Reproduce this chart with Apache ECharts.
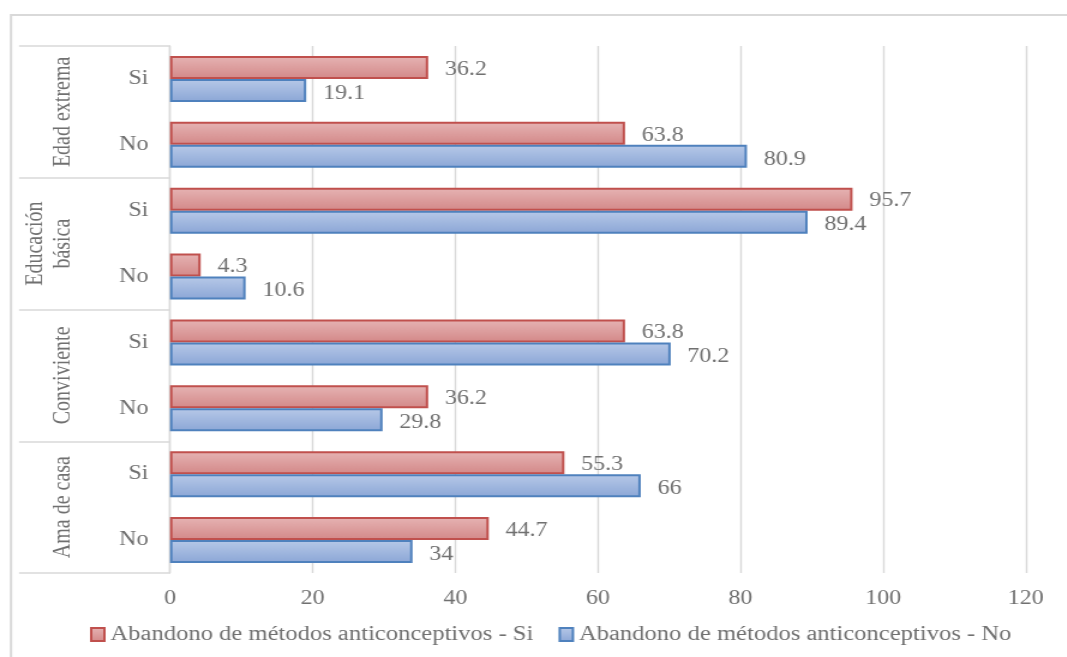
<!DOCTYPE html>
<html>
<head>
<meta charset="utf-8">
<script src="https://cdn.jsdelivr.net/npm/echarts@6/dist/echarts.min.js"></script>
<style>
html,body{margin:0;padding:0;background:#fff;overflow:hidden;}
#wrap{width:1067px;height:657px;overflow:hidden;position:relative;}
#chart{position:absolute;left:0;top:0;height:657px;transform-origin:0 0;}
</style>
</head>
<body>
<div id="wrap"><div id="chart"></div></div>
<script>
const groups = ['Edad extrema', 'Educación\nbásica', 'Conviviente', 'Ama de casa'];
const subCategories = ['Si', 'No', 'Si', 'No', 'Si', 'No', 'Si', 'No'];
const seriesNames = ['Abandono de métodos anticonceptivos - Si', 'Abandono de métodos anticonceptivos - No'];
const siValues = [36.2, 63.8, 95.7, 4.3, 63.8, 36.2, 55.3, 44.7];
const noValues = [19.1, 80.9, 89.4, 10.6, 70.2, 29.8, 66, 34];
const xTicks = { min: 0, max: 120, interval: 20 };

// The reference is horizontally stretched; reproduce by a horizontal CSS scale.
const S = 1.2;
const el = document.getElementById('chart');
el.style.width = (1067 / S) + 'px';
el.style.transform = 'scaleX(' + S + ')';

const FONT = "'Liberation Serif', 'Times New Roman', serif";
const TXT = '#707070';
const GRID = '#d9d9d9';

const chart = echarts.init(el);
const grad = (a, b) => new echarts.graphic.LinearGradient(0, 0, 0, 1, [
  { offset: 0, color: a }, { offset: 1, color: b }
]);

chart.setOption({
  animation: false,
  backgroundColor: '#fff',
  textStyle: { fontFamily: FONT },
  graphic: [{
    type: 'rect',
    shape: { x: 11 / S, y: 15, width: 1200, height: 800 },
    style: { fill: 'none', stroke: GRID, lineWidth: 2 },
    silent: true
  }],
  grid: { left: 170 / S, right: 41 / S, top: 46, bottom: 84, containLabel: false },
  legend: {
    top: 624,
    left: 90 / S,
    padding: 0,
    itemWidth: 11,
    itemHeight: 13,
    itemGap: 21,
    icon: 'rect',
    textStyle: { fontFamily: FONT, fontSize: 20.5, color: TXT },
    data: seriesNames
  },
  xAxis: {
    type: 'value',
    min: xTicks.min,
    max: xTicks.max,
    interval: xTicks.interval,
    axisLine: { show: false },
    axisTick: { show: false },
    splitLine: { lineStyle: { color: GRID, width: 1.4 } },
    axisLabel: { fontFamily: FONT, fontSize: 20, color: TXT, margin: 16 }
  },
  yAxis: [{
    type: 'category',
    inverse: true,
    data: subCategories,
    axisLine: { show: true, lineStyle: { color: GRID, width: 1.4 } },
    axisTick: { show: false },
    axisLabel: { fontFamily: FONT, fontSize: 20, color: TXT, margin: 18, interval: 0 }
  }, {
    type: 'category',
    inverse: true,
    position: 'left',
    offset: 0,
    data: groups,
    axisLine: { show: false },
    axisTick: { show: true, interval: 0, length: 151 / S, lineStyle: { color: GRID, width: 1.5 } },
    axisLabel: { fontFamily: FONT, fontSize: 20, color: TXT, rotate: 90, margin: 77, lineHeight: 23, interval: 0 },
    splitLine: { show: false }
  }],
  series: [{
    name: seriesNames[0],
    type: 'bar',
    yAxisIndex: 0,
    data: siValues,
    barGap: '0%',
    barCategoryGap: '30%',
    itemStyle: { color: grad('#e6b4b4', '#d38888'), borderColor: '#c0504d', borderWidth: 2 },
    label: { show: true, position: 'right', distance: 14, fontFamily: FONT, fontSize: 20, color: TXT, offset: [0, 2] }
  }, {
    name: seriesNames[1],
    type: 'bar',
    yAxisIndex: 0,
    data: noValues,
    barGap: '0%',
    barCategoryGap: '30%',
    itemStyle: { color: grad('#b7c9e8', '#8ba6d6'), borderColor: '#4f81bd', borderWidth: 2 },
    label: { show: true, position: 'right', distance: 14, fontFamily: FONT, fontSize: 20, color: TXT, offset: [0, 3] }
  }]
});
</script>
</body>
</html>
